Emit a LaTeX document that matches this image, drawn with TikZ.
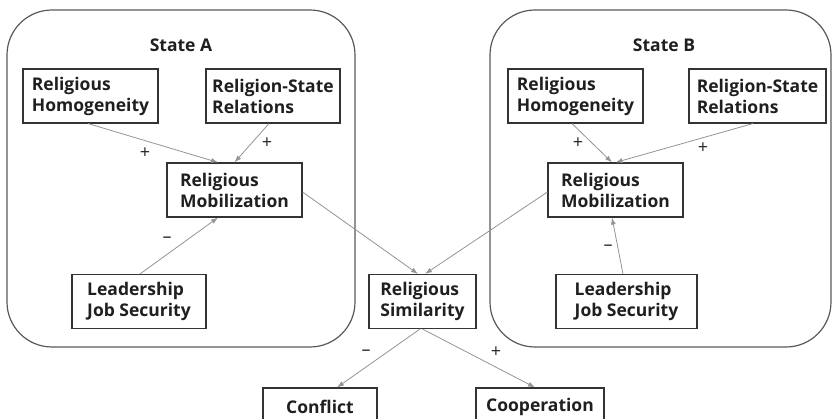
\documentclass[tikz,border=0pt]{standalone}
\usepackage{fontspec}
\setmainfont{Open Sans}
\usetikzlibrary{arrows.meta}

\tikzset{
	factor/.style={draw=black!80, line width=1.1pt, minimum width=135pt, minimum height=54pt, inner sep=0pt, align=left, text=black!88, font=\bfseries\fontsize{17.5}{21}\selectfont},
	statebox/.style={draw=black!65, line width=1.2pt, rounded corners=45pt},
	statename/.style={text=black!88, font=\bfseries\fontsize{17.5}{21}\selectfont},
	link/.style={draw=black!42, line width=0.8pt, -{Latex[length=7pt,width=5pt]}},
	sign/.style={text=black!85, inner sep=0pt, font=\fontsize{18}{18}\selectfont}
}

\begin{document}
\begin{tikzpicture}[x=1pt, y=-1pt]
		%%%%% START %%%%%
		\useasboundingbox (0, 0) rectangle (833, 419);
		
		\draw[statebox] (7, 10) rectangle (355, 347);
		\draw[statebox] (490, 10) rectangle (831, 347);
		\node[statename] (nameA) at (181, 45) {State A};
		\node[statename] (nameB) at (664, 45) {State B};
		
		% state A
		\node[factor] (homA) at (90.5, 96) {Religious\\Homogeneity};
		\node[factor, minimum width=134pt] (rsrA) at (273, 96) {Religion-State\\Relations};
		\node[factor] (mobA) at (234.5, 190) {Religious\\Mobilization};
		\node[factor, minimum width=134pt] (ljsA) at (139, 301.5) {Leadership\\Job Security};
		
		% state B
		\node[factor] (homB) at (575.5, 96) {Religious\\Homogeneity};
		\node[factor, minimum width=137pt] (rsrB) at (757.5, 96) {Religion-State\\Relations};
		\node[factor] (mobB) at (615.5, 190) {Religious\\Mobilization};
		\node[factor, minimum width=141pt] (ljsB) at (626.5, 301.5) {Leadership\\Job Security};
		
		% dyad
		\node[factor, minimum width=107pt] (sim) at (422.5, 301.5) {Religious\\Similarity};
		\node[factor, minimum width=114pt, minimum height=38pt] (conf) at (320, 407) {Conflict};
		\node[factor, minimum width=128pt, minimum height=38pt] (coop) at (540, 407) {Cooperation};
		
		\draw[link] ([xshift=-2.5pt]homA.south) -- ([xshift=-16.5pt]mobA.north);
		\draw[link] ([xshift=-4pt]rsrA.south) -- (mobA.north);
		\draw[link] ([xshift=1pt]ljsA.north) -- ([xshift=-16.5pt]mobA.south);
		\draw[link] ([yshift=-2pt]mobA.east) -- ([xshift=-4.5pt]sim.north);
		
		\draw[link] ([xshift=-3.5pt]homB.south) -- ([xshift=-3.5pt]mobB.north);
		\draw[link] ([xshift=-4.5pt]rsrB.south) -- (mobB.north);
		\draw[link] ([xshift=-3.5pt]ljsB.north) -- ([xshift=-3.5pt]mobB.south);
		\draw[link] ([yshift=-2pt]mobB.west) -- ([xshift=2.5pt]sim.north);
		
		\draw[link] ([xshift=-2.5pt]sim.south) -- ([xshift=17pt]conf.north);
		\draw[link] (sim.south) -- ([xshift=-5pt]coop.north);
		
		\node[sign] (s1) at (145, 153) {+};
		\node[sign] (s2) at (267, 143) {+};
		\node[sign] (s3) at (167, 240) {--};
		\node[sign] (s4) at (578, 143) {+};
		\node[sign] (s5) at (703, 148) {+};
		\node[sign] (s6) at (608, 248) {--};
		\node[sign] (s7) at (366, 353) {--};
		\node[sign] (s8) at (496, 352) {+};
		%%%%% END %%%%%
\end{tikzpicture}
\end{document}
